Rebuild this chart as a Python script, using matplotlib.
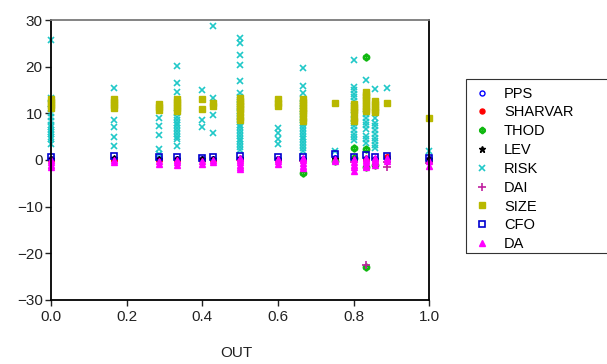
import matplotlib
matplotlib.use("Agg")
import matplotlib.pyplot as plt
from matplotlib.patches import Rectangle

plt.rcParams["font.family"] = ["Liberation Sans", "DejaVu Sans"]

# OUT positions where the observations sit
xs = [0.0, 1/6, 2/7, 1/3, 0.4, 3/7, 0.5, 0.6, 2/3, 0.75, 0.8, 5/6, 6/7, 8/9, 1.0]

# near-zero series, one list of values per OUT position
pps = [[0.2], [0.3], [0.2], [0.3], [0.2], [0.2], [0.3], [0.2], [0.3], [0.4], [0.3], [0.2], [0.3], [0.4], [0.3]]
sharvar = [[0.0], [0.0], [0.0], [0.0], [0.0], [0.0], [0.0], [0.0], [0.0], [0.3], [0.0], [0.0], [0.0], [0.6], [0.0]]
lev = [[0.3], [0.4], [0.3], [0.3], [0.3], [0.3], [0.4], [0.3], [0.3], [0.3], [0.3], [0.4], [0.3], [0.3], [0.2]]
cfo = [[0.6], [0.8], [0.6], [0.7], [0.5], [0.6], [0.8], [0.6], [0.7], [1.2], [0.6], [1.0], [0.7], [0.8], [0.5]]
da = [[-1.5, -1.0, -0.5, 0.0], [-0.5, 0.0], [-0.8, -0.2], [-1.0, -0.5, 0.0],
      [-0.8, -0.2], [-0.5, 0.0], [-2.0, -1.5, -1.0, -0.5, 0.0, 0.5], [-0.8, -0.2, 0.3],
      [-1.8, -1.2, -0.6, 0.0, 0.5], [-0.3, 0.3], [-2.4, -1.6, -1.0, -0.4, 0.2],
      [-1.5, -1.0, -0.5, 0.0, 0.5], [-1.0, -0.5, 0.0, 0.4], [-0.2, 0.4], [-1.2, -0.3]]

thod_x = [2/3, 0.75, 0.8, 0.8, 5/6, 5/6, 5/6, 5/6, 6/7]
thod_y = [-2.7, -0.2, 2.6, 0.5, 22.0, 2.4, -1.5, -23.0, -1.0]

dai_x = [0.5, 2/3, 0.8, 5/6, 8/9, 8/9, 1.0]
dai_y = [0.0, -0.3, -0.5, -22.5, -1.4, -0.5, -0.6]

risk = [
    [25.7, 13.2, 12, 11, 10, 9.2, 8.3, 7.5, 7, 6.5, 6, 5.5, 5, 4.5, 3.5],
    [15.5, 8.5, 7, 5, 3],
    [9, 7.3, 5.3, 2.3, 1.2],
    [20.2, 16.5, 14.5, 10, 9.3, 8.6, 8, 7.4, 6.8, 6.2, 5.6, 5, 4.5, 3],
    [15, 8.5, 7],
    [28.7, 13.2, 9.7, 5.7],
    [26.1, 25.1, 22.5, 20.3, 17, 14.4, 13.5, 12.8, 12, 11.3, 10.6, 10, 9.4, 8.8, 8.2,
     7.6, 7, 6.4, 5.8, 5.2, 4.6, 4, 3.4, 2.8, 2.2],
    [6.9, 5.7, 4.5, 3.4],
    [19.7, 15.9, 14.4, 13, 12.3, 11.6, 11, 10.4, 9.8, 9.2, 8.6, 8, 7.4, 6.8, 6.2, 5.6,
     5, 4.4, 3.8, 3.2, 2.6, 2],
    [2],
    [21.4, 15.6, 14.9, 14.2, 13.4, 12.6, 9.6, 8.8, 8, 7.2, 6.4, 5.6, 5, 4.2],
    [17.1, 9.8, 9, 8.2, 7.4, 6.6, 5.2, 4.5, 3.7],
    [15.2, 8.9, 8, 7.2, 6.4, 5.6, 4.8, 4, 3.2, 2.6],
    [15.4],
    [2],
]

size = [
    [13, 12.4, 11.8, 11.2],
    [13, 12.4, 11.8, 11.2],
    [12, 11.4, 10.8],
    [13, 12.4, 11.8, 11.2, 10.6],
    [13, 11],
    [12.2, 11.5],
    [13.3, 12.7, 12.1, 11.5, 10.9, 10.3, 9.2, 8.6],
    [13, 12.3, 11.6],
    [13, 12.4, 11.8, 11.2, 10.6, 10, 9, 8.4],
    [12.2],
    [12, 11.4, 10.8, 10.2, 9, 8.4],
    [14.6, 14, 13.4, 12.8, 12.2, 11.6, 11, 10.5],
    [12.6, 12, 11.4, 10.8, 10.2],
    [12.2],
    [9],
]


def flatten(groups):
    px, py = [], []
    for x, vals in zip(xs, groups):
        for v in vals:
            px.append(x)
            py.append(v)
    return px, py


fig = plt.figure(figsize=(6.07, 3.64), dpi=100)
ax = fig.add_axes([0.084, 0.176, 0.623, 0.769])

x, y = flatten(pps)
ax.plot(x, y, "o", mfc="none", mec="#0000ff", ms=4, mew=1, label="PPS", clip_on=False)
x, y = flatten(sharvar)
ax.plot(x, y, "o", color="#ff0000", ms=4, label="SHARVAR", clip_on=False)
ax.plot(thod_x, thod_y, marker=r"$\Phi$", ls="none", color="#10b810", ms=5, label="THOD", clip_on=False)
x, y = flatten(lev)
ax.plot(x, y, "*", color="#000000", ms=5, label="LEV", clip_on=False)
x, y = flatten(risk)
ax.plot(x, y, "x", color="#20c8c8", ms=4.5, mew=1.2, label="RISK", clip_on=False)
ax.plot(dai_x, dai_y, "+", color="#c0209f", ms=6, mew=1.2, label="DAI", clip_on=False)
x, y = flatten(size)
ax.plot(x, y, "s", color="#b8b800", ms=4.5, label="SIZE", clip_on=False)
x, y = flatten(cfo)
ax.plot(x, y, "s", mfc="none", mec="#0000d0", ms=4.5, mew=1.2, label="CFO", clip_on=False)
x, y = flatten(da)
ax.plot(x, y, "^", color="#ff00ff", ms=5, label="DA", clip_on=False)

ax.set_xlim(0, 1)
ax.set_ylim(-30, 30)
ax.set_xticks([0.0, 0.2, 0.4, 0.6, 0.8, 1.0])
ax.set_xticklabels(["0.0", "0.2", "0.4", "0.6", "0.8", "1.0"])
ax.set_yticks([-30, -20, -10, 0, 10, 20, 30])
ax.tick_params(axis="both", direction="out", length=4, width=1,
               colors="#222222", labelsize=11)
ax.tick_params(axis="x", pad=3)
ax.tick_params(axis="y", pad=2)
for side in ["left", "bottom", "right"]:
    ax.spines[side].set_color("#000000")
    ax.spines[side].set_linewidth(1.3)
ax.spines["top"].set_color("#7a7a7a")
ax.spines["top"].set_linewidth(1.3)

fig.text(0.39, 0.03, "OUT", ha="center", va="center", fontsize=11, color="#222222")

leg = fig.legend(loc="upper left", bbox_to_anchor=(0.768, 0.782), frameon=False,
                 fontsize=10.5, handlelength=1.2, handletextpad=0.9,
                 labelspacing=0.33, borderpad=0.5, borderaxespad=0, markerscale=0.9)

# legend box runs off the right edge of the picture, as in the source
fig.patches.append(Rectangle((0.768, 0.305), 0.3, 0.477, transform=fig.transFigure,
                             fill=False, edgecolor="#333333", linewidth=0.8))

fig.savefig("out.png", dpi=100)
